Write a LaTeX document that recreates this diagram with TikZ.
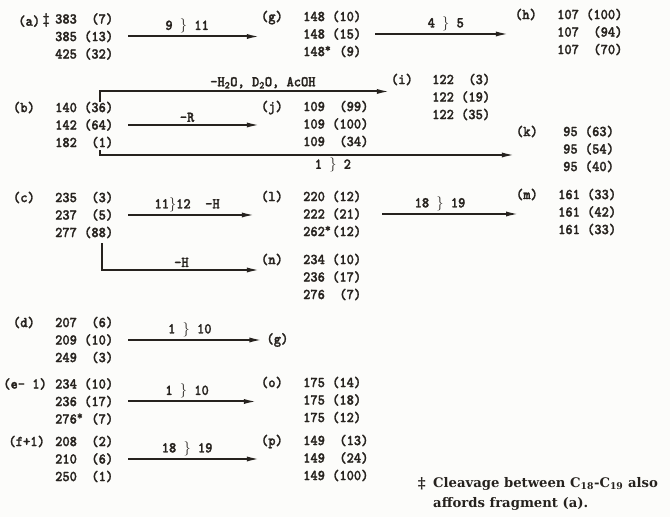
\documentclass[tikz,border=0pt]{standalone}
\usepackage{fontspec}
\setmainfont{DejaVu Serif}
\newfontfamily\twfont[FakeStretch=0.92, FakeBold=1.5]{lmmonolt10-bold.otf}
\usetikzlibrary{positioning,arrows.meta}
\definecolor{ink}{RGB}{38,34,30}
\definecolor{paper}{RGB}{252,252,250}
\newcommand\tw{\twfont\fontsize{15}{17.5}\selectfont}
\newcommand\brk{$\}$}
\newcommand\st{\rlap{\raisebox{4pt}{\fontsize{12}{12}\selectfont*}}}

\begin{document}
\begin{tikzpicture}[
  x=1pt, y=-1pt,
  frag/.style={anchor=north west, inner sep=0pt, align=left, font=\tw, text=ink},
  tag/.style={anchor=north east, inner sep=0pt, font=\tw, text=ink},
  lbl/.style={inner sep=2pt, font=\tw, text=ink},
  arr/.style={-{Latex[length=14pt,width=5pt]}, line width=2pt, draw=ink}
]
\fill[paper] (0,0) rectangle (670,517);
\useasboundingbox (0,0) rectangle (670,517);

% left column
\node[frag] (a) at (55,13) {383~~(7)\\385~(13)\\425~(32)};
\node[left=5pt of a.north west, tag] (ta) {(a)\,\raisebox{2pt}{\ddag}};
\node[frag] (b) at (55,101.5) {140~(36)\\142~(64)\\182~~(1)};
\node[left=20pt of b.north west, tag] (tb) {(b)};
\node[frag] (c) at (55,191.5) {235~~(3)\\237~~(5)\\277~(88)};
\node[left=20pt of c.north west, tag] (tc) {(c)};
\node[frag] (d) at (55,316.5) {207~~(6)\\209~(10)\\249~~(3)};
\node[left=20pt of d.north west, tag] (td) {(d)};
\node[frag] (e) at (55,378) {234~(10)\\236~(17)\\276\st~~(7)};
\node[left=8pt of e.north west, tag] (te) {(e-~1)};
\node[frag] (f) at (55,435.5) {208~~(2)\\210~~(6)\\250~~(1)};
\node[left=10pt of f.north west, tag] (tf) {(f+1)};

% middle column
\node[frag] (g) at (303,10.5) {148~(10)\\148~(15)\\148\st~~(9)};
\node[left=20pt of g.north west, tag] (tg) {(g)};
\node[frag] (j) at (303,100.5) {109~~(99)\\109~(100)\\109~~(34)};
\node[left=20pt of j.north west, tag] (tj) {(j)};
\node[frag] (l) at (303,190.5) {220~(12)\\222~(21)\\262\st~(12)};
\node[left=20pt of l.north west, tag] (tl) {(l)};
\node[frag] (n) at (303,253.5) {234~(10)\\236~(17)\\276~~(7)};
\node[left=20pt of n.north west, tag] (tn) {(n)};
\node[frag] (o) at (303,376.5) {175~(14)\\175~(18)\\175~(12)};
\node[left=20pt of o.north west, tag] (to) {(o)};
\node[frag] (p) at (303,434.5) {149~~(13)\\149~~(24)\\149~(100)};
\node[left=20pt of p.north west, tag] (tp) {(p)};

% right side
\node[frag] (i) at (432,73.5) {122~~(3)\\122~(19)\\122~(35)};
\node[left=19pt of i.north west, tag] (ti) {(i)};
\node[frag] (h) at (557,8.5) {107~(100)\\107~~(94)\\107~~(70)};
\node[left=20pt of h.north west, tag] (th) {(h)};
\node[frag] (k) at (563,125.5) {95~(63)\\95~(54)\\95~(40)};
\node[left=25pt of k.north west, tag] (tk) {(k)};
\node[frag] (m) at (558,188.5) {161~(33)\\161~(42)\\161~(33)};
\node[left=20pt of m.north west, tag] (tm) {(m)};

\node[right=153pt of d.east, anchor=west, inner sep=0pt, font=\tw, text=ink] (dg) {(g)};

% footnote
\node[anchor=north west, inner sep=0pt, align=left, text=ink,
      font=\bfseries\fontsize{13.2}{20}\selectfont] (note) at (433,477)
  {Cleavage between C\textsubscript{18}-C\textsubscript{19} also\\affords fragment (a).};
\node[left=7pt of note.north west, anchor=north east, inner sep=0pt, text=ink,
      font=\bfseries\fontsize{15}{15}\selectfont] (dd) {\raisebox{4pt}{\ddag}};

% arrows
\draw[arr, shorten <=15pt] (a.east) -- (a.east -| tg.west) node[lbl, midway, above] {9~\brk~11};
\draw[arr, shorten <=14pt, shorten >=5pt] (g.east) -- (g.east -| th.west) node[lbl, pos=0.55, above] {4~\brk~5};
\draw[arr] ([xshift=45pt]b.north west) |- ([yshift=-6pt]ti.south west)
  node[lbl, pos=0.78, above] {-H\textsubscript{2}O,~D\textsubscript{2}O,~AcOH};
\draw[arr, shorten <=15pt] (b.east) -- (b.east -| tj.west) node[lbl, midway, above] {-R};
\draw[arr] ([xshift=45pt,yshift=-2pt]b.south west) |- ([yshift=-6pt]k.west -| tk.west)
  node[lbl, pos=0.78, below] {1~\brk~2};
\draw[arr, shorten <=15pt, shorten >=5pt] (c.east) -- (c.east -| tl.west) node[lbl, midway, above] {11\brk12~~-H};
\draw[arr, shorten <=21pt, shorten >=38pt] (l.east) -- (l.east -| m.west) node[lbl, pos=0.4, above] {18~\brk~19};
\draw[arr] ([xshift=47pt,yshift=-5pt]c.south west) |- ([yshift=7pt]n.west -| tn.west) node[lbl, pos=0.75, above] {-H};
\draw[arr, shorten <=15pt, shorten >=3pt] (d) -- (dg) node[lbl, midway, above] {1~\brk~10};
\draw[arr, shorten <=15pt, shorten >=3pt] (e.east) -- (e.east -| to.west) node[lbl, midway, above] {1~\brk~10};
\draw[arr, shorten <=15pt] (f.east) -- (f.east -| tp.west) node[lbl, midway, above] {18~\brk~19};
\end{tikzpicture}
\end{document}
